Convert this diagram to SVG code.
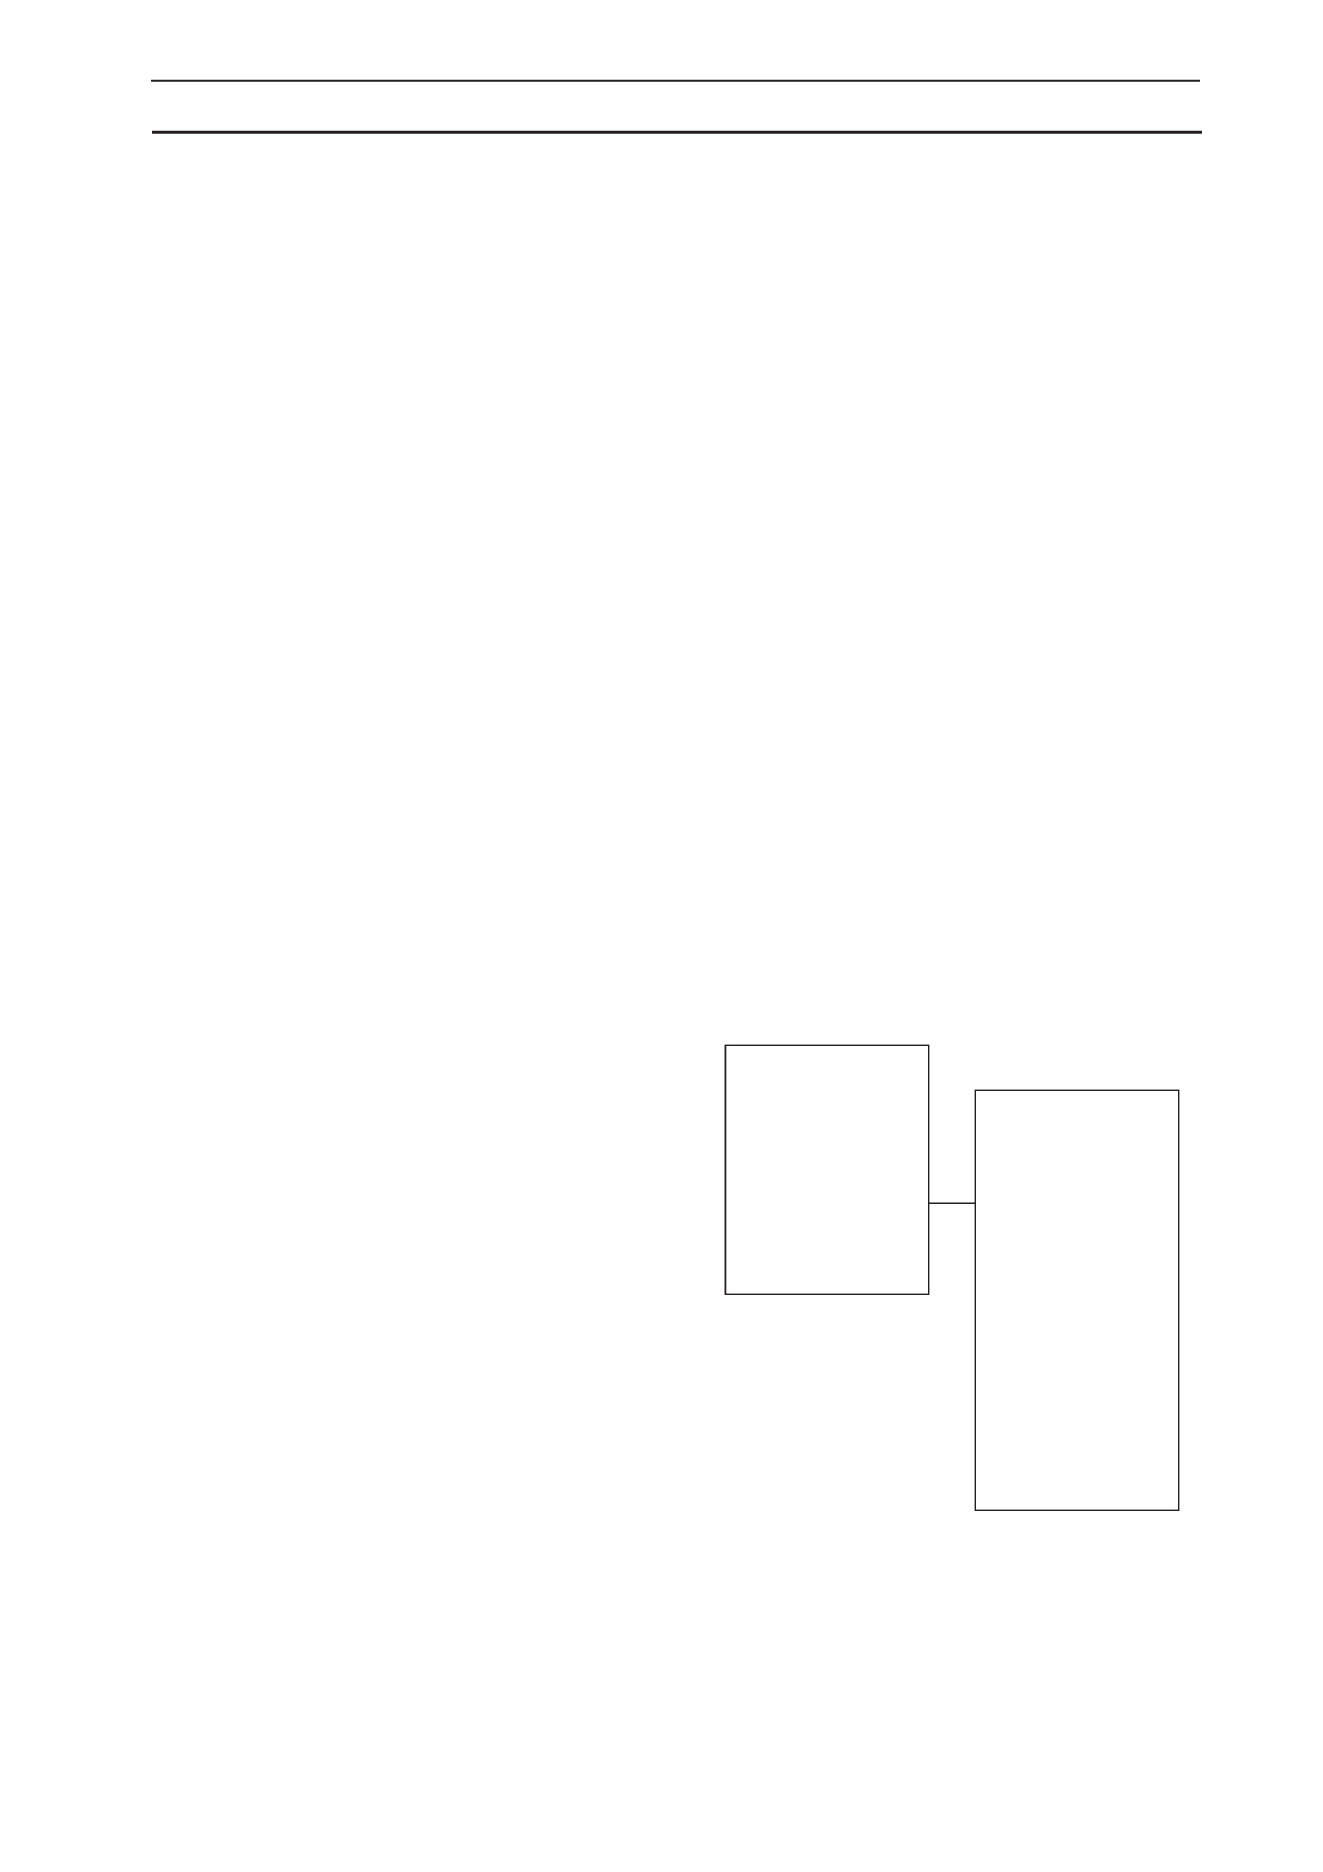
<svg xmlns="http://www.w3.org/2000/svg" width="1323" height="1872" viewBox="0 0 1323 1872">
<style>
.rule{stroke:#231f20;fill:none}
.node{fill:#ffffff;stroke:#231f20;stroke-width:1.4}
.conn{stroke:#231f20;stroke-width:1.4;fill:none}
</style>
<rect width="1323" height="1872" fill="#ffffff"/>
<line class="rule" x1="151" y1="80.8" x2="1200" y2="80.8" stroke-width="2"/>
<line class="rule" x1="152" y1="132.3" x2="1202" y2="132.3" stroke-width="3"/>
<g id="connectors">
<line class="conn" x1="928.7" y1="1203.3" x2="977.7" y2="1203.3"/>
</g>
<g id="node1">
<rect class="node" x="725.3" y="1045.3" width="203.4" height="249"/>
<line class="conn" x1="725.6" y1="1045.3" x2="725.6" y2="1294.3" stroke-width="2"/>
</g>
<g id="node2">
<rect class="node" x="975.3" y="1090.3" width="203.4" height="420"/>
</g>
</svg>
